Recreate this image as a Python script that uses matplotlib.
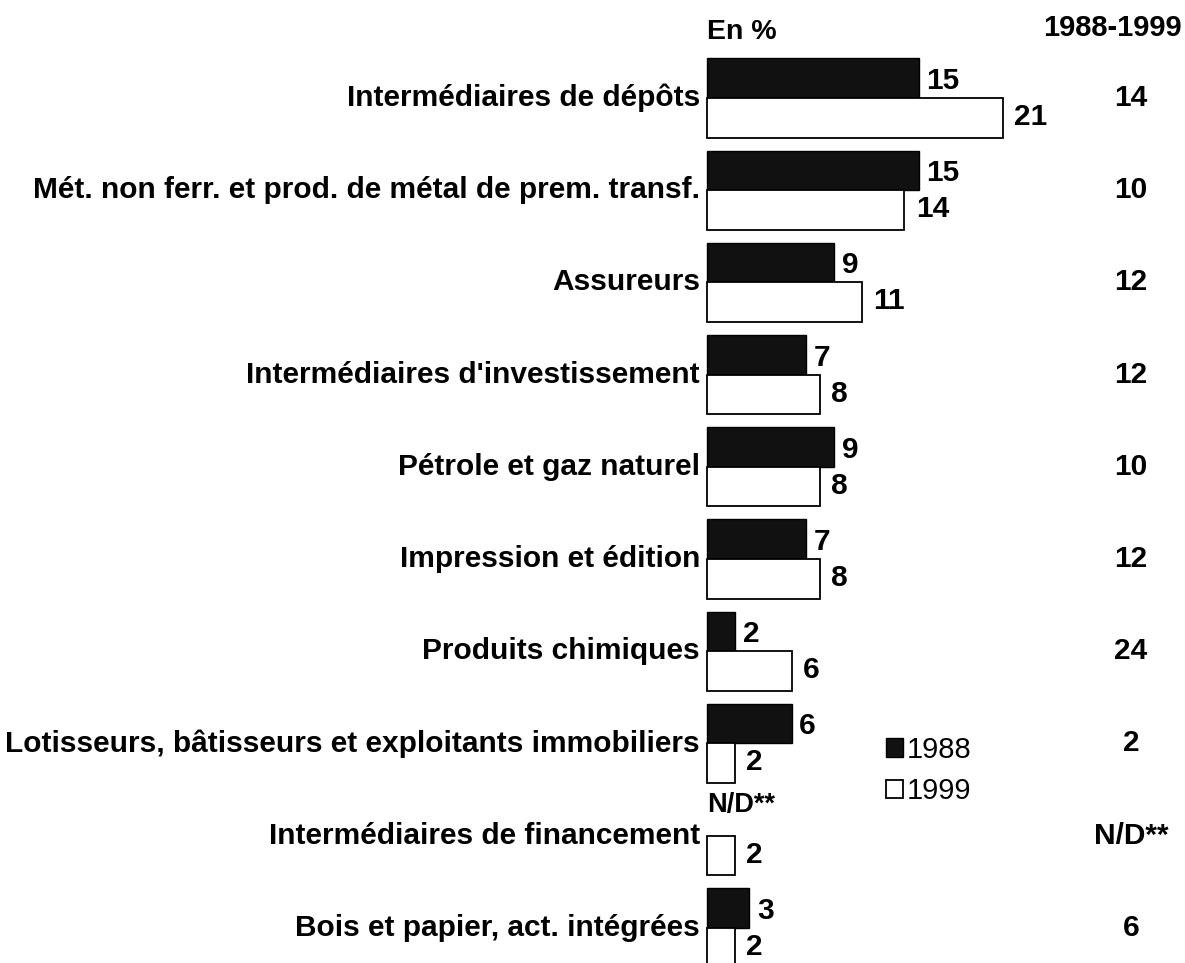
import numpy as np
import matplotlib.pyplot as plt

plt.rcParams['font.family'] = ['Liberation Sans', 'DejaVu Sans']
plt.rcParams['font.weight'] = 'bold'

categories = ["Intermédiaires de dépôts",
              "Mét. non ferr. et prod. de métal de prem. transf.",
              "Assureurs",
              "Intermédiaires d'investissement",
              "Pétrole et gaz naturel",
              "Impression et édition",
              "Produits chimiques",
              "Lotisseurs, bâtisseurs et exploitants immobiliers",
              "Intermédiaires de financement",
              "Bois et papier, act. intégrées"]
v1988 = [15, 15, 9, 7, 9, 7, 2, 6, None, 3]
v1999 = [21, 14, 11, 8, 8, 8, 6, 2, 2, 2]
croissance = ["14", "10", "12", "12", "10", "12", "24", "2", "N/D**", "6"]

W, H = 1185, 963
fig = plt.figure(figsize=(W / 100, H / 100), dpi=100)
ax = fig.add_axes([0, 0, 1, 1])

px_x = 14.1   # pixels par point de %
px_y = 92.2   # pixels par groupe
x0 = 707
ax.set_xlim(-x0 / px_x, (W - x0) / px_x)
top = -98 / px_y
ax.set_ylim(top + H / px_y, top)
ax.axis('off')

y = np.arange(len(categories))
h = 0.43
fs = 21.5

b88 = [v if v is not None else 0 for v in v1988]
bars88 = ax.barh(y - h / 2, b88, height=h, color='#111111', edgecolor='black', linewidth=1, label='1988')
bars99 = ax.barh(y + h / 2, v1999, height=h, color='white', edgecolor='black', linewidth=1.3, label='1999')
for i, v in enumerate(v1988):
    if v is None:
        bars88[i].set_visible(False)
        ax.text(0, y[i] - h / 2 - 0.12, "N/D**", ha='left', va='center', fontsize=fs - 2)
    else:
        ax.text(v + 0.55, y[i] - h / 2 + 0.03, str(v), ha='left', va='center', fontsize=fs)
for i, v in enumerate(v1999):
    ax.text(v + 0.8, y[i] + h / 2 - 0.01, str(v), ha='left', va='center', fontsize=fs)

for i, c in enumerate(categories):
    ax.text(-0.5, y[i], c, ha='right', va='center', fontsize=fs)
    ax.text((1131 - x0) / px_x, y[i], croissance[i], ha='center', va='center', fontsize=fs)

ax.text(0, top + 32 / px_y, "En %", ha='left', va='center', fontsize=fs - 1)
ax.text((1182 - x0) / px_x, top + 28 / px_y, "1988-1999", ha='right', va='center', fontsize=fs - 0.5)

ax.legend(handles=[bars88, bars99], loc='upper left', bbox_to_anchor=(886 / W, 1 - 736 / H),
          frameon=False, prop={'size': 21, 'weight': 'normal'}, handlelength=0.6, handleheight=0.6,
          handletextpad=0.1, labelspacing=0.45, borderaxespad=0, borderpad=0)

fig.savefig('out.png', dpi=100)
